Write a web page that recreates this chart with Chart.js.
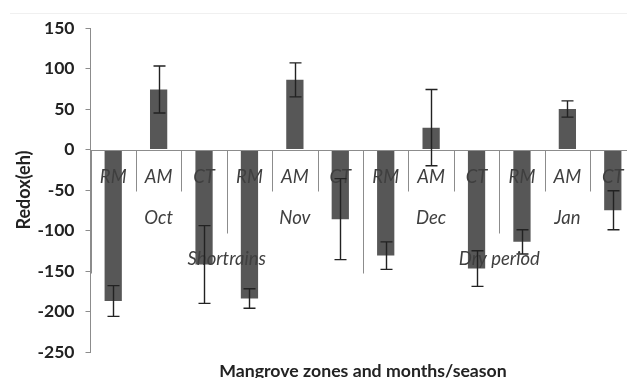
<!DOCTYPE html>
<html>
<head>
<meta charset="utf-8">
<script src="https://cdn.jsdelivr.net/npm/chart.js@4.4.1/dist/chart.umd.min.js"></script>
<style>
  html, body { margin: 0; padding: 0; background: #fff; overflow: hidden; width: 627px; height: 378px; }
  #wrap { width: 640px; height: 378px; position: relative; }
</style>
</head>
<body>
<div id="wrap"><canvas id="c" width="640" height="378"></canvas></div>
<script>
// Mangrove zones within each month, months grouped by season
const zones = ['RM', 'AM', 'CT', 'RM', 'AM', 'CT', 'RM', 'AM', 'CT', 'RM', 'AM', 'CT'];
const months = ['Oct', 'Nov', 'Dec', 'Jan'];
const seasons = ['Shortrains', 'Dry period'];

// Mean redox potential (eh) and its error, one per zone/month
const redox    = [-187, 74, -142, -184, 86, -86, -131, 27, -147, -114, 50, -75];
const redoxErr = [  19, 29,   48,   12, 21,  50,   17, 47,   22,   15, 10,  24];

// Value axis ticks
const yTicks = [150, 100, 50, 0, -50, -100, -150, -200, -250];

const FONT = 'Lato';
const AXIS_GREY = '#8c8c8c';
const TEXT_DARK = '#222';
const LABEL_GREY = '#3f3f3f';

// Category axis drawn along the zero line: zone, month and season levels
const categoryAxis = {
  id: 'categoryAxis',
  afterDatasetsDraw(chart) {
    const { ctx, chartArea: a, scales: { x, y } } = chart;
    const y0 = Math.round(y.getPixelForValue(0)) + 0.5;
    const perMonth = zones.length / months.length;
    const perSeason = zones.length / seasons.length;
    const centre = (from, count) =>
      (x.getPixelForValue(from) + x.getPixelForValue(from + count - 1)) / 2;

    ctx.save();
    ctx.strokeStyle = AXIS_GREY;
    ctx.lineWidth = 1;
    ctx.beginPath();
    ctx.moveTo(a.left, y0);
    ctx.lineTo(a.right, y0);
    ctx.stroke();

    // separators between categories; longer at month and season boundaries
    for (let i = 0; i <= zones.length; i++) {
      let xp;
      if (i === 0) xp = a.left;
      else if (i === zones.length) xp = a.right;
      else xp = (x.getPixelForValue(i - 1) + x.getPixelForValue(i)) / 2;
      xp = Math.round(xp) + 0.5;
      const len = i % perSeason === 0 ? 123 : (i % perMonth === 0 ? 83 : 41);
      ctx.beginPath();
      ctx.moveTo(xp, y0);
      ctx.lineTo(xp, y0 + len);
      ctx.stroke();
    }

    ctx.fillStyle = LABEL_GREY;
    ctx.textAlign = 'center';
    ctx.textBaseline = 'middle';
    ctx.font = `italic 18.5px ${FONT}`;
    zones.forEach((z, i) => ctx.fillText(z, x.getPixelForValue(i), y0 + 27));
    months.forEach((m, i) => ctx.fillText(m, centre(i * perMonth, perMonth), y0 + 68));
    seasons.forEach((s, i) => ctx.fillText(s, centre(i * perSeason, perSeason), y0 + 109));
    ctx.restore();

    // error bars
    ctx.save();
    ctx.strokeStyle = '#222';
    ctx.lineWidth = 1.4;
    redox.forEach((v, i) => {
      const xp = Math.round(x.getPixelForValue(i)) + 0.5;
      const top = y.getPixelForValue(v + redoxErr[i]);
      const bot = y.getPixelForValue(v - redoxErr[i]);
      ctx.beginPath();
      ctx.moveTo(xp, top); ctx.lineTo(xp, bot);
      ctx.moveTo(xp - 6, top); ctx.lineTo(xp + 6, top);
      ctx.moveTo(xp - 6, bot); ctx.lineTo(xp + 6, bot);
      ctx.stroke();
    });
    ctx.restore();
  },
  afterDraw(chart) {
    const { ctx, chartArea: a } = chart;
    ctx.save();
    ctx.strokeStyle = '#f0f0f0';
    ctx.beginPath();
    ctx.moveTo(10, 13.5);
    ctx.lineTo(chart.width, 13.5);
    ctx.stroke();
    ctx.fillStyle = TEXT_DARK;
    ctx.font = `bold 17.7px ${FONT}`;
    ctx.textAlign = 'center';
    ctx.textBaseline = 'alphabetic';
    ctx.fillText('Mangrove zones and months/season', (a.left + a.right) / 2, 377);
    ctx.restore();
  }
};

new Chart(document.getElementById('c'), {
  type: 'bar',
  data: {
    labels: zones,
    datasets: [{
      data: redox,
      backgroundColor: '#575757',
      borderWidth: 0,
      barPercentage: 0.38,
      categoryPercentage: 1.0
    }]
  },
  options: {
    responsive: false,
    devicePixelRatio: 1,
    animation: false,
    layout: { padding: { left: 0, top: 28, right: 4.5, bottom: 26 } },
    plugins: { legend: { display: false }, tooltip: { enabled: false } },
    scales: {
      x: { display: false, offset: true },
      y: {
        min: Math.min(...yTicks),
        max: Math.max(...yTicks),
        ticks: {
          stepSize: 50,
          color: TEXT_DARK,
          padding: 11,
          font: { family: FONT, weight: 'bold', size: 17.5 }
        },
        grid: { drawOnChartArea: false, tickLength: 5, tickColor: AXIS_GREY },
        border: { color: AXIS_GREY },
        title: {
          display: true,
          text: 'Redox(eh)',
          color: TEXT_DARK,
          font: { family: FONT, weight: 'bold', size: 18 },
          padding: { top: 13, bottom: 0 }
        },
        afterFit(scale) { scale.width = 90.5; }
      }
    }
  },
  plugins: [categoryAxis]
});
</script>
</body>
</html>
